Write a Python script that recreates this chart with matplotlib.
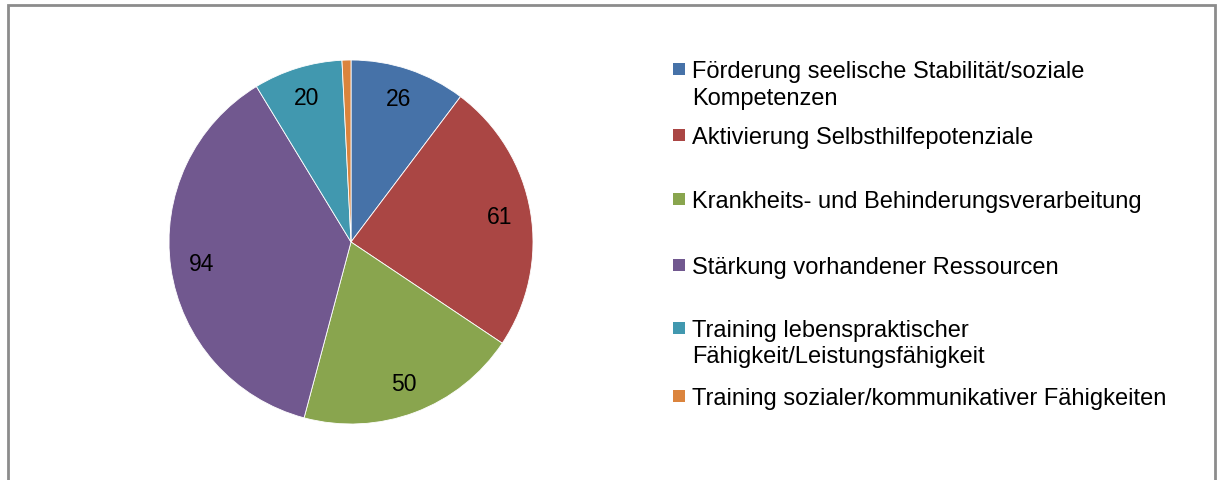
import matplotlib.pyplot as plt
import matplotlib.patches as mpatches

plt.rcParams['font.family'] = ['Liberation Sans', 'DejaVu Sans']

labels = ['Förderung seelische Stabilität/soziale\nKompetenzen',
          'Aktivierung Selbsthilfepotenziale',
          'Krankheits- und Behinderungsverarbeitung',
          'Stärkung vorhandener Ressourcen',
          'Training lebenspraktischer\nFähigkeit/Leistungsfähigkeit',
          'Training sozialer/kommunikativer Fähigkeiten']
values = [26, 61, 50, 94, 20, 2]
show_value = [True, True, True, True, True, False]
colors = ['#4672a8', '#aa4644', '#89a54e', '#71588f', '#4198af', '#db843d']

W, H = 1219, 481
fig = plt.figure(figsize=(W / 100, H / 100), dpi=100)

# outer frame (bottom edge runs off the picture)
fig.patches.append(mpatches.Rectangle((8 / W, -0.05), (1215 - 8) / W, (H - 6) / H + 0.05,
                                      transform=fig.transFigure, fill=False,
                                      edgecolor='#8c8c8c', linewidth=2))

cx, cy, r = 351, 243, 182
ax = fig.add_axes([(cx - r) / W, (H - cy - r) / H, 2 * r / W, 2 * r / H])
wedges, texts = ax.pie(values, colors=colors, startangle=90, counterclock=False,
                       labels=[str(v) if s else '' for v, s in zip(values, show_value)],
                       labeldistance=0.83,
                       wedgeprops=dict(edgecolor='white', linewidth=0.6),
                       textprops=dict(fontsize=16.5, ha='center', va='center'))
ax.set_xlim(-1, 1)
ax.set_ylim(-1, 1)
ax.set_aspect('equal')

# legend laid out like the original
ys = [70, 136, 200, 266, 329, 397]
line_gap = 26.5
for lab, col, y in zip(labels, colors, ys):
    fig.patches.append(mpatches.Rectangle((673 / W, (H - y - 6) / H), 12 / W, 12 / H,
                                          transform=fig.transFigure, facecolor=col,
                                          edgecolor='none'))
    for i, line in enumerate(lab.split('\n')):
        fig.text(692 / W, (H - y - 8 - i * line_gap) / H, line, fontsize=17,
                 ha='left', va='baseline')

fig.savefig('out.png', dpi=100)
